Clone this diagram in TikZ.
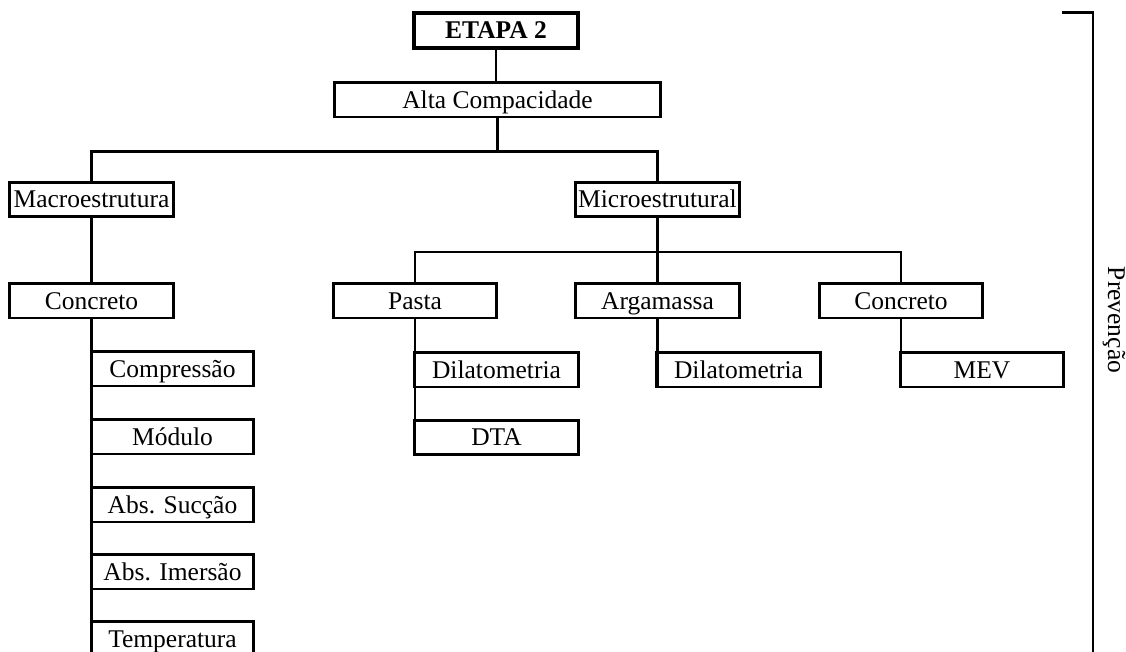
\documentclass[tikz,border=0pt]{standalone}
\usepackage{fontspec}
\setmainfont{Liberation Serif}
\newcommand{\fonte}{\fontsize{7.25}{8}\selectfont}
\tikzset{
  caixa/.style={draw, line width=.85pt, inner sep=0pt, minimum height=.34cm,
    text height=.19cm, text depth=.02cm, font=\fonte},
  ramo/.style={caixa, minimum width=1.63cm},
  liga/.style={line width=.85pt}
}
\begin{document}
\begin{tikzpicture}[x=.01cm, y=-.01cm, line join=miter]
  \useasboundingbox (0,0) rectangle (1126,652);
  % topo
  \node[caixa, line width=1.1pt, minimum width=1.64cm, minimum height=.35cm, font=\fonte\bfseries] (etapa) at (496,30.5) {ETAPA 2};
  \node[caixa, minimum width=3.25cm] (alta) at (497.5,100) {Alta Compacidade};
  \node[ramo] (macro) at (91.5,199.5) {Macroestrutura};
  \node[ramo] (micro) at (657.5,199.5) {Microestrutural};
  \draw[liga] (etapa) -- (etapa |- alta.north);
  \draw[liga] (alta.south) -- ++(0,33) coordinate (bus1);
  \draw[liga] (macro.north) |- (bus1) -| (micro.north);
  % macroestrutura
  \node[ramo] (conc1) at (91.5,301) {Concreto};
  \draw[liga] (macro) -- (conc1);
  \foreach \y/\nome/\txt in {369/comp/Compress\~ao, 437/mod/M\'odulo, 505/succ/Abs. Suc\c c\~ao,
                             572/imer/Abs. Imers\~ao, 639/temp/Temperatura}
    \node[caixa, minimum width=1.61cm] (\nome) at (172.5,\y) {\txt};
  \draw[liga] (conc1.south) -- (conc1.south |- temp.south);
  % microestrutural
  \node[ramo] (pasta) at (415,301) {Pasta};
  \node[ramo] (arga) at (657.5,301) {Argamassa};
  \node[ramo] (conc2) at (901,301) {Concreto};
  \draw[liga] (micro.south) -- ++(0,34) coordinate (bus2);
  \draw[liga] (pasta.north) |- (bus2) -| (conc2.north);
  \draw[liga] (bus2) -- (arga.north);
  \node[ramo] (dil1) at (496.5,370) {Dilatometria};
  \node[ramo] (dta) at (496.5,437.5) {DTA};
  \node[ramo] (dil2) at (738.5,370) {Dilatometria};
  \node[ramo] (mev) at (982,370) {MEV};
  \draw[liga] (pasta.south) -- (pasta.south |- dta.south);
  \draw[liga] (arga.south) -- (arga.south |- dil2.south);
  \draw[liga] (conc2.south) -- (conc2.south |- mev.south);
  % prevencao
  \coordinate (chave1) at (1062,13);
  \coordinate (chave2) at (1093,13);
  \coordinate (chave3) at (1093,660);
  \draw[line width=.85pt] (chave1) -- (chave2) -- (chave3);
  \node[font=\fonte, rotate=-90, inner sep=0pt] (prev) at (1114,320) {Preven\c c\~ao};
\end{tikzpicture}
\end{document}
